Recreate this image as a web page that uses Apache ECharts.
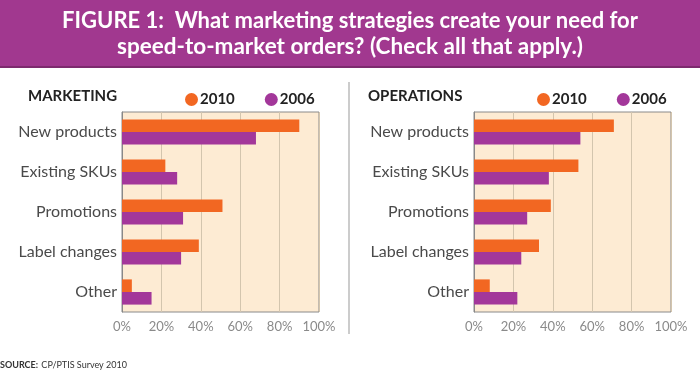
<!DOCTYPE html>
<html>
<head>
<meta charset="utf-8">
<script src="https://cdn.jsdelivr.net/npm/echarts@6/dist/echarts.min.js"></script>
<style>
html,body{margin:0;padding:0;background:#fff;}
#chart{width:700px;height:373px;}
</style>
</head>
<body>
<div id="chart"></div>
<script>
const categories = ['New products', 'Existing SKUs', 'Promotions', 'Label changes', 'Other'];
const marketing2010 = [90, 22, 51, 39, 5];
const marketing2006 = [68, 28, 31, 30, 15];
const operations2010 = [71, 53, 39, 33, 8];
const operations2006 = [54, 38, 27, 24, 22];
const tickLabels = ['0%', '20%', '40%', '60%', '80%', '100%'];
const seriesNames = ['2010', '2006'];
const panelTitles = ['MARKETING', 'OPERATIONS'];

const ORANGE = '#f26722';
const PURPLE = '#a3379a';
const FONT = 'Lato, "Open Sans", sans-serif';

const chart = echarts.init(document.getElementById('chart'), null, {renderer: 'canvas'});

function xAxis(idx) {
  return {
    gridIndex: idx, type: 'value', min: 0, max: 100, interval: 20,
    axisLine: {show: false}, axisTick: {show: false},
    axisLabel: {formatter: v => tickLabels[v / 20], color: '#8a8a8a', fontSize: 13, fontFamily: FONT, margin: 8},
    splitLine: {show: true, lineStyle: {color: '#d3c5ae', width: 1}}
  };
}
function yAxis(idx) {
  return {
    gridIndex: idx, type: 'category', data: categories, inverse: true,
    axisLine: {show: true, lineStyle: {color: '#888'}}, axisTick: {show: false},
    axisLabel: {color: '#4a4a4a', fontSize: 16, fontFamily: FONT, margin: 5}
  };
}
function bar(name, data, idx, color) {
  return {
    name: name, type: 'bar', xAxisIndex: idx, yAxisIndex: idx, data: data,
    barGap: '0%', barCategoryGap: '37%',
    itemStyle: {color: color}, emphasis: {disabled: true}
  };
}
function legend(left) {
  return {
    data: seriesNames, left: left, top: 87, icon: 'circle',
    itemWidth: 13, itemHeight: 13, itemGap: 30,
    textStyle: {fontSize: 15, fontWeight: 'bold', color: '#222', fontFamily: FONT, padding: [0, 0, 0, -3]},
    selectedMode: false
  };
}

chart.setOption({
  animation: false,
  backgroundColor: '#fff',
  grid: [
    {left: 122, width: 197, top: 112, height: 200, show: true, backgroundColor: '#fdebd3', borderColor: '#8a8a8a', borderWidth: 1},
    {left: 474, width: 197, top: 112, height: 200, show: true, backgroundColor: '#fdebd3', borderColor: '#8a8a8a', borderWidth: 1}
  ],
  xAxis: [xAxis(0), xAxis(1)],
  yAxis: [yAxis(0), yAxis(1)],
  legend: [legend(180), legend(532)],
  series: [
    bar(seriesNames[0], marketing2010, 0, ORANGE),
    bar(seriesNames[1], marketing2006, 0, PURPLE),
    bar(seriesNames[0], operations2010, 1, ORANGE),
    bar(seriesNames[1], operations2006, 1, PURPLE)
  ],
  graphic: [
    {type: 'rect', shape: {x: 0, y: 0, width: 700, height: 68}, style: {fill: '#a1388f'}, z: 0},
    {type: 'rect', shape: {x: 0, y: 66, width: 700, height: 2}, style: {fill: '#7d2a6e'}, z: 1},
    {type: 'text', x: 350, y: 21, style: {text: 'FIGURE 1:  What marketing strategies create your need for', fill: '#fff', font: 'bold 22px ' + FONT, align: 'center', verticalAlign: 'middle'}, z: 2},
    {type: 'text', x: 350, y: 47, style: {text: 'speed-to-market orders? (Check all that apply.)', fill: '#fff', font: 'bold 22.5px ' + FONT, align: 'center', verticalAlign: 'middle'}, z: 2},
    {type: 'text', x: 28, y: 96, style: {text: panelTitles[0], fill: '#222', font: 'bold 15px ' + FONT, verticalAlign: 'middle'}},
    {type: 'text', x: 368, y: 96, style: {text: panelTitles[1], fill: '#222', font: 'bold 15px ' + FONT, verticalAlign: 'middle'}},
    {type: 'line', shape: {x1: 349, y1: 82, x2: 349, y2: 334}, style: {stroke: '#bbb', lineWidth: 1.5}},
    {type: 'text', x: 0, y: 365, style: {rich: {b: {font: 'bold 9px ' + FONT, fill: '#333'}, n: {font: '9px ' + FONT, fill: '#333'}}, text: '{b|SOURCE:} {n|CP/PTIS Survey 2010}', verticalAlign: 'middle'}}
  ]
});
</script>
</body>
</html>
